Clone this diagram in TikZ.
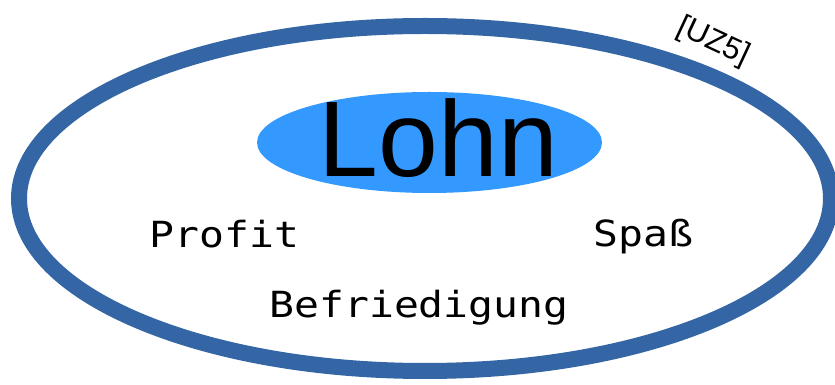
\documentclass[tikz,border=0pt]{standalone}
\usepackage{fontspec}
\usepackage{graphicx}
\setmainfont{Liberation Sans}
\newfontfamily\labelmono{DejaVu Sans Mono}
\definecolor{ringblue}{HTML}{3465A4}
\definecolor{coreblue}{HTML}{3399FF}
\tikzset{
  ring/.style={draw=ringblue, line width=16pt},
  core/.style={fill=coreblue, draw=none},
  word/.style={inner sep=0pt, anchor=base, font=\labelmono\fontsize{36}{40}\selectfont},
}
\newcommand{\widetext}[1]{\scalebox{1.15}[1]{#1}}
\begin{document}
\begin{tikzpicture}[x=1pt, y=1pt]
  \useasboundingbox (0,0) rectangle (835,385);
  % outer ring and central ellipse
  \draw[ring] (425,186.5) ellipse [x radius=406, y radius=172.5];
  \fill[core] (429.5,242.5) ellipse [x radius=172.5, y radius=50.5];
  % labels
  \node[inner sep=0pt, anchor=base, font=\fontsize{107.5}{110}\selectfont] (lohn) at (438.5,208) {Lohn};
  \node[word] (profit) at (224.5,137) {\widetext{Profit}};
  \node[word] (spass) at (643.5,138) {\widetext{Spaß}};
  \node[word] (befr) at (419,67) {\widetext{Befriedigung}};
  \node[inner sep=0pt, rotate=-25, font=\fontsize{31}{33}\selectfont] (uz) at (713,343) {[UZ5]};
\end{tikzpicture}
\end{document}
